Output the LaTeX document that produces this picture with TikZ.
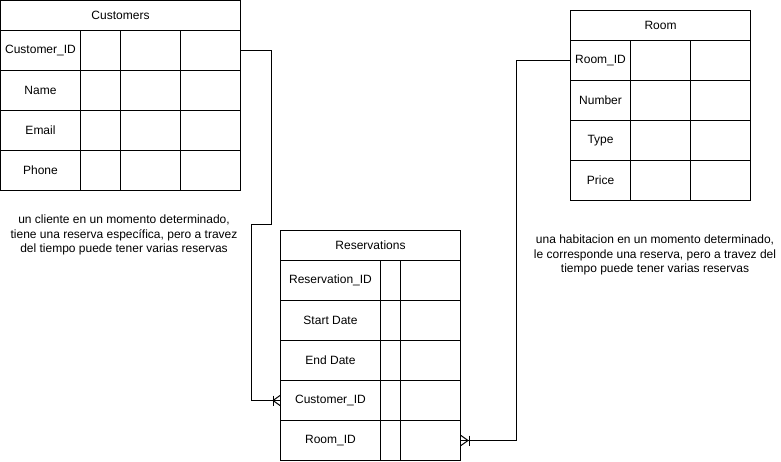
\documentclass[tikz,border=0pt]{standalone}
\usepackage{fontspec}
\setmainfont{Liberation Sans}
\usetikzlibrary{calc}
\tikzset{
  cell/.style={draw, line width=1pt, anchor=north west, inner sep=0pt, minimum height=40pt, font=\fontsize{12}{14}\selectfont},
  hdr/.style={cell, minimum height=30pt, minimum width=#1},
  note/.style={align=center, inner sep=0pt, font=\fontsize{12}{14.5}\selectfont},
  conn/.style={draw, line width=1pt}
}
\begin{document}
\begin{tikzpicture}[x=1pt,y=-1pt]
\useasboundingbox (0,0) rectangle (781,461);
% Customers
\node[hdr=240pt] (cust) at (0,0) {Customers};
\node[cell, minimum width=80pt] (c1) at (0,30) {Customer\_ID};
\node[cell, minimum width=80pt] (c2) at (0,70) {Name};
\node[cell, minimum width=80pt] (c3) at (0,110) {Email};
\node[cell, minimum width=80pt] (c4) at (0,150) {Phone};
\foreach \r/\y in {1/30,2/70,3/110,4/150}{
  \node[cell, minimum width=40pt] (ca\r) at (80,\y) {};
  \node[cell, minimum width=60pt] (cb\r) at (120,\y) {};
  \node[cell, minimum width=60pt] (cc\r) at (180,\y) {};
}
% Room
\node[hdr=180pt] (room) at (570,10) {Room};
\node[cell, minimum width=60pt] (rm1) at (570,40) {Room\_ID};
\node[cell, minimum width=60pt] (rm2) at (570,80) {Number};
\node[cell, minimum width=60pt] (rm3) at (570,120) {Type};
\node[cell, minimum width=60pt] (rm4) at (570,160) {Price};
\foreach \r/\y in {1/40,2/80,3/120,4/160}{
  \node[cell, minimum width=60pt] (ra\r) at (630,\y) {};
  \node[cell, minimum width=60pt] (rb\r) at (690,\y) {};
}
% Reservations
\node[hdr=180pt] (res) at (280,230) {Reservations};
\node[cell, minimum width=100pt] (rv1) at (280,260) {Reservation\_ID};
\node[cell, minimum width=100pt] (rv2) at (280,300) {Start Date};
\node[cell, minimum width=100pt] (rv3) at (280,340) {End Date};
\node[cell, minimum width=100pt] (rv4) at (280,380) {Customer\_ID};
\node[cell, minimum width=100pt] (rv5) at (280,420) {Room\_ID};
\foreach \r/\y in {1/260,2/300,3/340,4/380,5/420}{
  \node[cell, minimum width=20pt] (va\r) at (380,\y) {};
  \node[cell, minimum width=60pt] (vb\r) at (400,\y) {};
}
% Notes
\node[note] (n1) at (124,235) {un cliente en un momento determinado,\\tiene una reserva específica, pero a travez\\del tiempo puede tener varias reservas};
\node[note] (n2) at (655,255) {una habitacion en un momento determinado,\\le corresponde una reserva, pero a travez del\\tiempo puede tener varias reservas};
% Connectors
\draw[conn] (cc1.east) -- ++(30,0) -- ++(0,174) -- ++(-20,0) |- (rv4.west);
\draw[conn] ($(rv4.west)+(-7,-5)$) -- ($(rv4.west)+(-7,5)$);
\draw[conn] ($(rv4.west)+(0,-5)$) -- ($(rv4.west)+(-7,0)$) -- ($(rv4.west)+(0,5)$);
\draw[conn] (rm1.west) -- ++(-54,0) |- (vb5.east);
\draw[conn] ($(vb5.east)+(8,-5)$) -- ($(vb5.east)+(8,5)$);
\draw[conn] ($(vb5.east)+(0,-5)$) -- ($(vb5.east)+(7,0)$) -- ($(vb5.east)+(0,5)$);
\end{tikzpicture}
\end{document}
